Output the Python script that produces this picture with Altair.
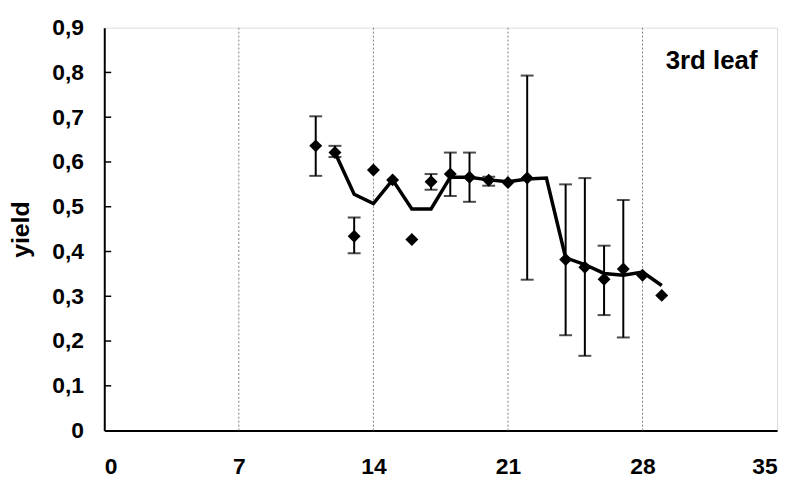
import altair as alt
import pandas as pd

# ---- data ----
pt_day = [11, 12, 13, 14, 15, 16, 17, 18, 19, 20, 21, 22, 24, 25, 26, 27, 28, 29]
pt_yield = [0.636, 0.621, 0.434, 0.582, 0.560, 0.427, 0.556, 0.573, 0.566, 0.559,
            0.554, 0.564, 0.382, 0.365, 0.338, 0.361, 0.347, 0.302]

err_day = [11, 12, 13, 17, 18, 19, 20, 22, 24, 25, 26, 27]
err_lo = [0.569, 0.611, 0.396, 0.538, 0.524, 0.511, 0.547, 0.337, 0.213, 0.167, 0.258, 0.208]
err_hi = [0.702, 0.636, 0.476, 0.573, 0.621, 0.621, 0.567, 0.793, 0.550, 0.564, 0.413, 0.515]

line_day = [12, 13, 14, 15, 16, 17, 18, 19, 20, 21, 22, 23, 24, 25, 26, 27, 28, 29]
line_yield = [0.621, 0.528, 0.507, 0.560, 0.495, 0.495, 0.566, 0.566, 0.560, 0.556,
              0.562, 0.564, 0.386, 0.371, 0.351, 0.347, 0.354, 0.324]

x_ticks = [0, 7, 14, 21, 28, 35]
grid_days = [7, 14, 21, 28]
y_ticks = [0, 0.1, 0.2, 0.3, 0.4, 0.5, 0.6, 0.7, 0.8, 0.9]
y_inner_ticks = [0.1, 0.2, 0.3, 0.4, 0.5, 0.6, 0.7, 0.8]
panel_label = "3rd leaf"
y_title = "yield"

pts = pd.DataFrame({"day": pt_day, "val": pt_yield})
err = pd.DataFrame({"day": err_day, "lo": err_lo, "hi": err_hi})
line = pd.DataFrame({"day": line_day, "val": line_yield})
grid = pd.DataFrame({"day": grid_days})
yt = pd.DataFrame({"val": y_inner_ticks})

FONT = "Liberation Sans"
W, H = 678, 406

xs = alt.Scale(domain=[0, 35], nice=False, zero=False)
ys = alt.Scale(domain=[0, 0.9], nice=False)

xaxis = alt.Axis(values=x_ticks, title=None, grid=False, tickSize=0, labelPadding=25,
                 domainColor="black", domainWidth=2, labelFont=FONT, labelFontSize=23,
                 labelFontWeight="bold", labelColor="black", format="d")
yaxis = alt.Axis(values=y_ticks, title=y_title, grid=False, tickSize=0, labelPadding=21,
                 domainColor="black", domainWidth=2, labelFont=FONT, labelFontSize=23,
                 labelFontWeight="bold", labelColor="black",
                 labelExpr="datum.value == 0 ? '0' : replace(format(datum.value, '.1f'), '.', ',')",
                 titleFont=FONT, titleFontSize=25, titleFontWeight="bold", titleColor="black",
                 titleX=-84, titleY=H / 2, titleAngle=270, titleBaseline="middle", titleAlign="center")

X = lambda f: alt.X(f, type="quantitative", scale=xs, axis=xaxis)
Y = lambda f: alt.Y(f, type="quantitative", scale=ys, axis=yaxis)

grid_layer = alt.Chart(grid).mark_rule(color="#808080", strokeDash=[2, 2], strokeWidth=1).encode(
    x=X("day"), y=alt.datum(0, scale=ys), y2=alt.datum(0.9))

tick_layer = alt.Chart(yt).mark_rule(color="black", strokeWidth=1.5).encode(
    y=Y("val"), x=alt.value(0), x2=alt.value(7))

err_rule = alt.Chart(err).mark_rule(color="black", strokeWidth=2).encode(
    x=X("day"), y=Y("lo"), y2="hi")
err_lo_cap = alt.Chart(err).mark_tick(color="black", orient="horizontal", size=13, thickness=2).encode(
    x=X("day"), y=Y("lo"))
err_hi_cap = alt.Chart(err).mark_tick(color="black", orient="horizontal", size=13, thickness=2).encode(
    x=X("day"), y=Y("hi"))

line_layer = alt.Chart(line).mark_line(color="black", strokeWidth=3.5).encode(
    x=X("day"), y=Y("val"))

pt_layer = alt.Chart(pts).mark_point(shape="diamond", filled=True, color="black", opacity=1, size=170).encode(
    x=X("day"), y=Y("val"))

label_layer = alt.Chart(pd.DataFrame({"t": [panel_label]})).mark_text(
    font=FONT, fontSize=26, fontWeight="bold", color="black", align="center", baseline="middle"
).encode(text="t:N", x=alt.value(612), y=alt.value(34))

chart = alt.layer(grid_layer, tick_layer, err_rule, err_lo_cap, err_hi_cap, line_layer, pt_layer, label_layer).properties(
    width=W, height=H,
    autosize=alt.AutoSizeParams(type="none"),
    padding={"left": 97, "top": 18, "right": 12, "bottom": 50},
).configure_view(stroke="black", strokeWidth=1.5).configure(background="white")

chart.save("out.html", embed_options={"renderer": "svg", "actions": False})
